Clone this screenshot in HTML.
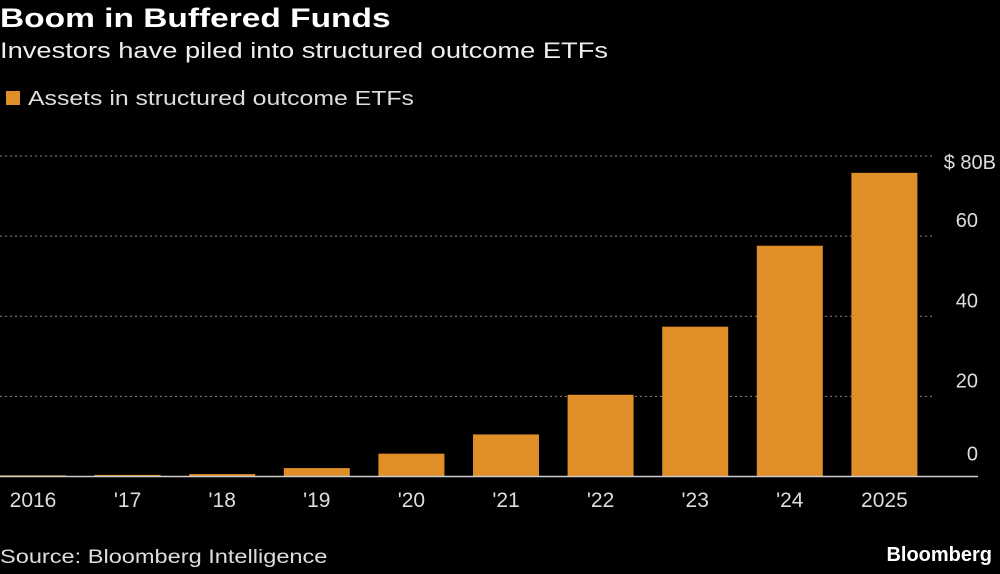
<!DOCTYPE html>
<html><head><meta charset="utf-8"><style>
body{margin:0;background:#000;width:1000px;height:574px;overflow:hidden;font-family:"Liberation Sans",sans-serif;color:#fff}
.t{position:absolute;left:0;transform:scaleX(1.24);transform-origin:left top;white-space:nowrap}
</style></head><body>
<div class="t" style="top:3px;font-size:27px;font-weight:bold">Boom in Buffered Funds</div>
<div class="t" style="top:38px;font-size:22px;color:#eee">Investors have piled into structured outcome ETFs</div>
<div class="t" style="top:88px;font-size:20px;color:#ddd;transform:none"><span style="display:inline-block;width:14px;height:14px;background:#e08e28;margin:0 8px 0 6px"></span><span style="display:inline-block;transform:scaleX(1.24);transform-origin:left center">Assets in structured outcome ETFs</span></div>
<svg id="chart" width="1000" height="574" style="position:absolute;left:0;top:0"></svg>
<div class="t" style="top:547px;font-size:19px;color:#ddd">Source: Bloomberg Intelligence</div>
<div style="position:absolute;right:8px;top:544px;font-size:20px;font-weight:bold">Bloomberg</div>
<script>
const categories=["2016","'17","'18","'19","'20","'21","'22","'23","'24","2025"];
const values=[0.3,0.4,0.6,2.1,5.7,10.5,20.4,37.4,57.6,75.8];
const yTicks=[0,20,40,60,80];
const yTickLabels=["0","20","40","60","$ 80B"];
const svg=document.getElementById('chart');
const NS='http://www.w3.org/2000/svg';
const y=v=>476.5-v*(476.5-156)/80;
const x=i=>i*94.6;
const bw=66;
function mk(t,a){const e=document.createElementNS(NS,t);for(const k in a)e.setAttribute(k,a[k]);svg.appendChild(e);return e;}
yTicks.forEach((v,i)=>{
 if(v>0){const g=mk('line',{x1:0,x2:935,y1:y(v),y2:y(v),stroke:'#888','stroke-dasharray':'2,3','stroke-width':1});
 
 }
 const t=mk('text',{x:v==80?996:978,y:y(v)+(v==0?-16:v==80?13:-9),fill:'#ddd','font-size':20,'text-anchor':'end','font-family':'Liberation Sans, sans-serif'});
 t.textContent=yTickLabels[i];
 
 
});
categories.forEach((c,i)=>{
 const h=476.5-y(values[i]);
 const r=mk('rect',{x:x(i),y:y(values[i]),width:bw,height:Math.max(h,1),fill:'#e08e28'});
 
 
 const t=mk('text',{x:x(i)+bw/2,y:507,fill:'#ddd','font-size':21,'text-anchor':'middle','font-family':'Liberation Sans, sans-serif'});
 t.textContent=c;
 
 
});
const ax=mk('line',{x1:0,x2:978,y1:476.5,y2:476.5,stroke:'#ccc','stroke-width':1.5});


</script>
</body></html>
